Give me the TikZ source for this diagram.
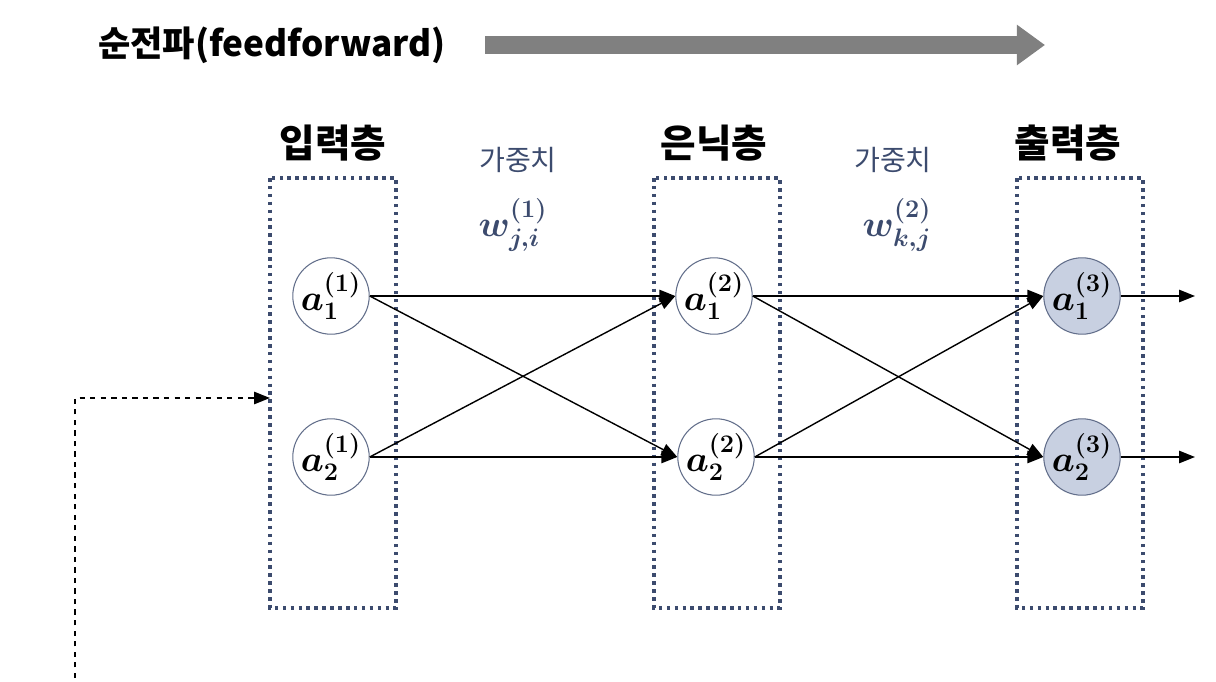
\documentclass[tikz,border=0pt]{standalone}
\usepackage{fontspec}
\usepackage{amsmath}
\setmainfont{Noto Sans CJK KR}
\usetikzlibrary{arrows.meta}
\definecolor{slate}{RGB}{60,75,110}
\definecolor{nodefill}{RGB}{200,208,225}
\tikzset{
  neuron/.style={circle, draw=slate!80, semithick, minimum size=1.5cm, inner sep=0pt, font=\fontsize{22}{26}\selectfont},
  outneuron/.style={neuron, fill=nodefill},
  layerbox/.style={draw=slate, line width=2pt, dash pattern=on 2pt off 2.5pt},
  header/.style={font=\fontsize{22}{26}\selectfont\bfseries},
  weight/.style={font=\fontsize{16}{19}\selectfont, text=slate},
  link/.style={-{Triangle[length=9pt,width=7pt]}, thick}
}
\newcommand{\act}[2]{$\boldsymbol{a_{#1}^{(#2)}}$}
\begin{document}
\begin{tikzpicture}[x=0.02cm, y=-0.02cm]
  \useasboundingbox (0,0) rectangle (1216,682);

  % === Titolo ===
  \node[anchor=west, font=\fontsize{20}{24}\selectfont\bfseries] (title) at (92,45) {순전파(feedforward)};
  \draw[gray, line width=10pt, -{Triangle[length=16pt,width=22pt]}] (485,45) -- (1045,45);

  % === Strati ===
  \draw[layerbox] (270,178) rectangle (396,608);
  \draw[layerbox] (654,178) rectangle (780,608);
  \draw[layerbox] (1017,178) rectangle (1143,608);
  \node[header] (hin) at (333,143) {입력층};
  \node[header] (hhid) at (714,143) {은닉층};
  \node[header] (hout) at (1068,143) {출력층};

  % Pesi
  \node[weight] (w1t) at (518,160) {가중치};
  \node[weight] (w2t) at (893,160) {가중치};
  \node[text=slate, font=\fontsize{22}{26}\selectfont] (w1) at (513,225) {$\boldsymbol{w_{j,i}^{(1)}}$};
  \node[text=slate, font=\fontsize{22}{26}\selectfont] (w2) at (897,225) {$\boldsymbol{w_{k,j}^{(2)}}$};

  % Neuroni
  \node[neuron] (i1) at (331,296) {\act{1}{1}};
  \node[neuron] (i2) at (331,457) {\act{2}{1}};
  \node[neuron] (h1) at (714,296) {\act{1}{2}};
  \node[neuron] (h2) at (716,457) {\act{2}{2}};
  \node[outneuron] (o1) at (1082,296) {\act{1}{3}};
  \node[outneuron] (o2) at (1082,457) {\act{2}{3}};
  \coordinate (y1) at (1195,296);
  \coordinate (y2) at (1195,457);

  % Connessioni
  \foreach \a in {i1,i2}
    \foreach \b in {h1,h2}
      \draw[link] (\a.east) -- (\b.west);
  \foreach \a in {h1,h2}
    \foreach \b in {o1,o2}
      \draw[link] (\a.east) -- (\b.west);
  \draw[link] (o1.east) -- (y1);
  \draw[link] (o2.east) -- (y2);

  % Ritorno
  \coordinate (back0) at (75,678);
  \coordinate (back1) at (75,398);
  \coordinate (back2) at (270,398);
  \draw[dashed, thick, -{Triangle[length=9pt,width=7pt]}] (back0) -- (back1) -- (back2);
\end{tikzpicture}
\end{document}
